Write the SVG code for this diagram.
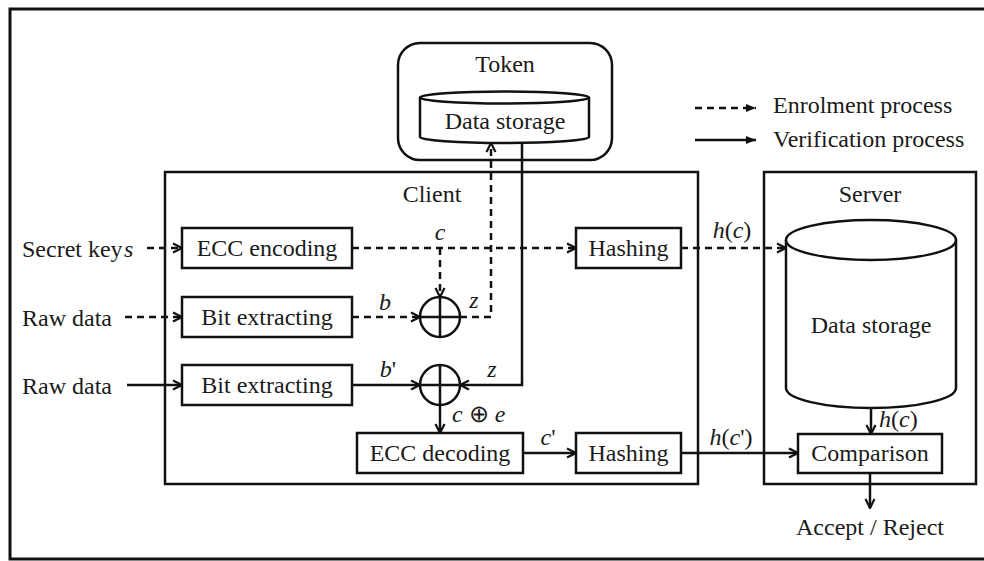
<svg xmlns="http://www.w3.org/2000/svg" width="984" height="561" viewBox="0 0 984 561">
<style>
  text { font-family: "Liberation Serif", "Times New Roman", serif; font-size: 24px; fill: #1a1a1a; }
  .c { text-anchor: middle; }
  .i { font-style: italic; }
  .box { fill: #fff; stroke: #111; stroke-width: 2.5; }
  .frame { fill: none; stroke: #111; stroke-width: 2.5; }
  .solid { fill: none; stroke: #111; stroke-width: 2.5; }
  .dash { fill: none; stroke: #111; stroke-width: 2.5; stroke-dasharray: 7 5; }
</style>
<defs>
  <marker id="arr" viewBox="0 0 12 12" refX="11" refY="6" markerWidth="12" markerHeight="12" markerUnits="userSpaceOnUse" orient="auto">
    <path d="M2,1.5 L11,6 L2,10.5" fill="none" stroke="#111" stroke-width="2.2" stroke-dasharray="none"/>
  </marker>
  <marker id="tri" viewBox="0 0 12 12" refX="11" refY="6" markerWidth="12" markerHeight="12" markerUnits="userSpaceOnUse" orient="auto">
    <path d="M1,2 L11,6 L1,10 Z" fill="#111" stroke="none"/>
  </marker>
</defs>
<rect width="984" height="561" fill="#fff"/>
<path d="M984,9 H10 V559 H984" fill="none" stroke="#111" stroke-width="3"/>

<g id="token">
  <rect x="398" y="43" width="214" height="117" rx="22" class="frame"/>
  <text x="505" y="72" class="c">Token</text>
</g>
<g id="token-storage">
  <path d="M420,97.5 V137 A84.5,6 0 0 0 589,137 V97.5" class="box"/>
  <ellipse cx="504.5" cy="97.5" rx="84.5" ry="6" class="box"/>
  <text x="505" y="129" class="c">Data storage</text>
</g>
<g id="client">
  <rect x="165" y="172" width="533" height="312" class="frame"/>
  <text x="432" y="202" class="c">Client</text>
</g>
<g id="server">
  <rect x="764" y="172" width="212" height="312" class="frame"/>
  <text x="870" y="202" class="c">Server</text>
</g>
<g id="server-storage">
  <path d="M786,240 V388 A85,20 0 0 0 956,388 V240" class="box"/>
  <ellipse cx="871" cy="240" rx="85" ry="20" class="box"/>
  <text x="871" y="333" class="c">Data storage</text>
</g>
<g id="ecc-encoding">
  <rect x="182" y="228" width="170" height="40" class="box"/>
  <text x="267" y="256" class="c">ECC encoding</text>
</g>
<g id="bit-extracting-1">
  <rect x="182" y="297" width="170" height="40" class="box"/>
  <text x="267" y="325" class="c">Bit extracting</text>
</g>
<g id="bit-extracting-2">
  <rect x="182" y="365" width="170" height="40" class="box"/>
  <text x="267" y="393" class="c">Bit extracting</text>
</g>
<g id="hashing-1">
  <rect x="576" y="228" width="105" height="40" class="box"/>
  <text x="628.5" y="256" class="c">Hashing</text>
</g>
<g id="hashing-2">
  <rect x="576" y="433" width="105" height="40" class="box"/>
  <text x="628.5" y="461" class="c">Hashing</text>
</g>
<g id="ecc-decoding">
  <rect x="357" y="433" width="166" height="40" class="box"/>
  <text x="440" y="461" class="c">ECC decoding</text>
</g>
<g id="comparison">
  <rect x="798" y="434" width="144" height="39" class="box"/>
  <text x="870" y="461" class="c">Comparison</text>
</g>
<g id="xor-1">
  <circle cx="440" cy="317" r="20" class="box"/>
  <path d="M420,317 H460 M440,297 V337" class="solid"/>
</g>
<g id="xor-2">
  <circle cx="440" cy="385" r="20" class="box"/>
  <path d="M420,385 H460 M440,365 V405" class="solid"/>
</g>

<g id="connectors">
  <!-- enrolment (dashed) -->
  <path d="M147,248 H182" class="dash" marker-end="url(#arr)"/>
  <path d="M125,317 H182" class="dash" marker-end="url(#arr)"/>
  <path d="M352,248 H576" class="dash" marker-end="url(#arr)"/>
  <path d="M440,248 V297" class="dash" marker-end="url(#arr)"/>
  <path d="M352,317 H420" class="dash" marker-end="url(#arr)"/>
  <path d="M460,317 H491 V143" class="dash" marker-end="url(#arr)"/>
  <path d="M681,248 H786" class="dash" marker-end="url(#arr)"/>
  <!-- verification (solid) -->
  <path d="M127,385 H182" class="solid" marker-end="url(#arr)"/>
  <path d="M352,385 H420" class="solid" marker-end="url(#arr)"/>
  <path d="M522,143 V385 H460" class="solid" marker-end="url(#arr)"/>
  <path d="M440,405 V433" class="solid" marker-end="url(#arr)"/>
  <path d="M523,453 H576" class="solid" marker-end="url(#arr)"/>
  <path d="M681,453 H798" class="solid" marker-end="url(#arr)"/>
  <path d="M871,407 V434" class="solid" marker-end="url(#arr)"/>
  <path d="M870,473 V508" class="solid" marker-end="url(#arr)"/>
  <!-- legend lines -->
  <path d="M695,108 H756" class="dash" marker-end="url(#tri)"/>
  <path d="M695,140 H756" class="solid" marker-end="url(#tri)"/>
  <!-- labels -->
  <text x="440" y="240" class="c i">c</text>
  <text x="385" y="310" class="c i">b</text>
  <text x="474" y="308" class="c i">z</text>
  <text x="388" y="377" class="c"><tspan class="i">b</tspan>'</text>
  <text x="492" y="377" class="c i">z</text>
  <text x="452" y="422"><tspan class="i">c</tspan> ⊕ <tspan class="i">e</tspan></text>
  <text x="548" y="445" class="c"><tspan class="i">c</tspan>'</text>
  <text x="732" y="238" class="c"><tspan class="i">h</tspan>(<tspan class="i">c</tspan>)</text>
  <text x="731" y="445" class="c"><tspan class="i">h</tspan>(<tspan class="i">c</tspan>')</text>
  <text x="879" y="427"><tspan class="i">h</tspan>(<tspan class="i">c</tspan>)</text>
</g>

<g id="inputs">
  <text x="22" y="257">Secret key<tspan class="i" x="124">s</tspan></text>
  <text x="22" y="326">Raw data</text>
  <text x="22" y="394">Raw data</text>
  <text x="870" y="535" class="c">Accept / Reject</text>
</g>
<g id="legend">
  <text x="773" y="113">Enrolment process</text>
  <text x="773" y="147">Verification process</text>
</g>
</svg>
